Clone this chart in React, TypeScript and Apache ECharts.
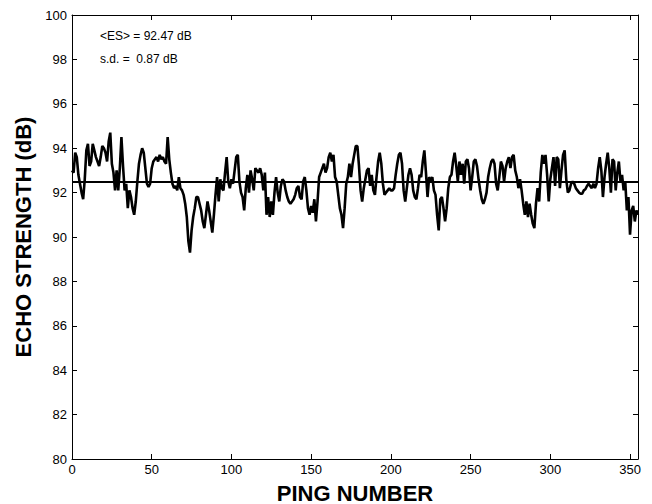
import React, { useEffect, useRef } from "react";
import * as echarts from "echarts";

// Echo strength (dB) for ping numbers 0..355 (index = ping number)
const echoStrength: number[] = [
  93.0, 92.9, 93.8, 93.6, 92.8, 92.4, 92.0, 91.7, 92.6, 93.9,
  94.2, 93.2, 93.4, 94.2, 93.9, 93.6, 93.4, 93.2, 93.6, 94.1,
  94.0, 93.8, 93.4, 94.3, 94.7, 93.3, 92.9, 92.1, 93.0, 92.1,
  93.1, 94.5, 93.2, 92.1, 92.4, 91.3, 92.1, 91.8, 91.3, 91.0,
  91.6, 92.5, 93.3, 93.7, 94.0, 93.8, 93.1, 92.4, 92.25, 92.4,
  93.1, 93.4, 93.5, 93.6, 93.4, 93.7, 93.5, 93.6, 93.4, 93.3,
  94.5, 93.5, 92.9, 92.4, 92.2, 92.3, 92.1, 92.7, 92.2, 92.1,
  91.9, 91.5, 90.9, 89.8, 89.3, 90.3, 90.9, 91.3, 91.8, 91.8,
  91.5, 91.2, 90.7, 90.4, 91.0, 91.6, 91.2, 90.7, 90.2, 91.0,
  91.9, 92.7, 91.6, 92.6, 92.2, 92.1, 92.9, 93.6, 92.5, 92.2,
  92.6, 92.4, 93.0, 93.6, 93.7, 92.5, 92.0, 91.8, 91.2, 92.2,
  92.8, 92.0, 93.0, 92.6, 92.1, 93.1, 93.0, 92.9, 93.1, 92.8,
  92.1, 92.9, 91.0, 91.8, 90.9, 91.6, 91.0, 92.0, 92.7, 92.0,
  91.6, 92.3, 92.6, 92.5, 92.1, 91.8, 91.6, 91.5, 91.6, 91.7,
  91.9, 92.2, 92.3, 91.8, 91.7, 92.5, 92.7, 92.1, 91.3, 91.0,
  91.4, 91.1, 91.7, 90.7, 91.6, 92.7, 92.9, 93.1, 93.3, 92.9,
  93.1, 93.6, 93.8, 93.4, 93.7, 92.7, 92.5, 91.9, 91.3, 91.0,
  90.4, 91.3, 92.4, 92.7, 93.3, 92.7, 93.3, 93.7, 94.1, 94.1,
  93.2, 92.1, 91.6, 92.2, 92.6, 93.0, 93.1, 92.3, 92.8, 92.1,
  91.9, 92.7, 93.4, 93.8, 93.3, 92.4, 91.9, 92.0, 92.1, 92.2,
  92.1, 92.1, 92.2, 92.8, 93.3, 93.7, 93.8, 93.3, 92.1, 91.6,
  92.2, 92.8, 93.1, 92.8, 92.1, 91.8, 91.7, 92.2, 92.8, 92.7,
  93.4, 93.9, 92.9, 91.8, 92.7, 92.5, 92.7, 92.1, 91.9, 91.0,
  90.3, 91.7, 91.8, 91.3, 90.7, 91.3, 92.2, 92.7, 92.8, 93.4,
  93.8, 93.2, 92.5, 93.4, 92.8, 93.3, 92.4, 93.4, 93.5, 93.1,
  92.1, 92.7, 93.4, 93.5, 93.2, 92.6, 92.1, 91.7, 91.5, 91.7,
  92.0, 92.7, 93.1, 93.4, 93.5, 93.3, 92.4, 92.1, 92.7, 93.4,
  93.2, 92.5, 93.1, 93.4, 93.6, 93.1, 93.6, 93.7, 93.0, 92.7,
  92.2, 92.6, 92.1, 91.5, 91.0, 91.6, 90.9, 91.5, 91.0, 90.6,
  90.4, 91.5, 92.2, 91.6, 92.9, 93.7, 93.3, 93.7, 92.8, 91.6,
  92.6, 93.1, 93.6, 92.3, 93.6, 93.5, 92.2, 93.0, 93.7, 93.9,
  92.6, 92.0, 92.1, 92.4, 92.5, 92.4, 92.2, 92.1, 92.0, 91.95,
  91.95, 92.1, 92.15, 92.3, 92.4, 92.3, 92.2, 92.4, 92.2, 92.4,
  93.1, 93.6, 93.0, 91.8, 92.7, 93.3, 93.8, 93.1, 92.0, 93.5,
  93.4, 92.1, 92.9, 93.4, 92.5, 92.8, 92.1, 92.5, 91.2, 91.8,
  90.1, 91.2, 91.4, 90.7, 91.2, 91.0,
];

const meanES = 92.47;
const sdES = 0.87;

const xMin = 0;
const xMax = 355;
const xInterval = 50;
const yMin = 80;
const yMax = 100;
const yInterval = 2;

const xTitle = "PING NUMBER";
const yTitle = "ECHO STRENGTH (dB)";
const annotationLines = [`<ES> = ${meanES.toFixed(2)} dB`, `s.d. =  ${sdES.toFixed(2)} dB`];

export default function App() {
  const ref = useRef<HTMLDivElement>(null);

  useEffect(() => {
    if (!ref.current) return;
    const chart = echarts.init(ref.current, null, { renderer: "svg" });
    const font = "'Liberation Sans', Arial, Helvetica, sans-serif";

    const lineStyle = { color: "#000", width: 1 };
    const tick = { show: true, inside: true, length: 5, lineStyle: { color: "#000", width: 1 } };

    chart.setOption({
      animation: false,
      backgroundColor: "#ffffff",
      grid: { left: 72, right: 14, top: 15, bottom: 45, containLabel: false, outerBoundsMode: "none" },
      xAxis: [
        {
          type: "value",
          min: xMin,
          max: xMax,
          interval: xInterval,
          position: "bottom",
          name: xTitle,
          nameLocation: "middle",
          nameGap: 23,
          nameTextStyle: { fontFamily: font, fontWeight: "bold", fontSize: 22, color: "#000" },
          axisLine: { show: true, onZero: false, lineStyle },
          axisTick: tick,
          axisLabel: { color: "#000", fontFamily: font, fontSize: 13, margin: 4, showMaxLabel: false },
          splitLine: { show: false },
        },
        {
          type: "value",
          min: xMin,
          max: xMax,
          interval: xInterval,
          position: "top",
          axisLine: { show: true, onZero: false, lineStyle },
          axisTick: tick,
          axisLabel: { show: false },
          splitLine: { show: false },
        },
      ],
      yAxis: [
        {
          type: "value",
          min: yMin,
          max: yMax,
          interval: yInterval,
          position: "left",
          name: yTitle,
          nameLocation: "middle",
          nameGap: 29,
          nameTextStyle: { fontFamily: font, fontWeight: "bold", fontSize: 22, color: "#000" },
          axisLine: { show: true, onZero: false, lineStyle },
          axisTick: tick,
          axisLabel: { color: "#000", fontFamily: font, fontSize: 13, margin: 5 },
          splitLine: { show: false },
        },
        {
          type: "value",
          min: yMin,
          max: yMax,
          interval: yInterval,
          position: "right",
          axisLine: { show: true, onZero: false, lineStyle },
          axisTick: tick,
          axisLabel: { show: false },
          splitLine: { show: false },
        },
      ],
      graphic: annotationLines.map((t, i) => ({
        type: "text",
        left: 100,
        top: 30 + i * 23,
        style: { text: t, fill: "#000", font: `12px ${font}` },
      })),
      series: [
        {
          type: "line",
          xAxisIndex: 0,
          yAxisIndex: 0,
          data: echoStrength.map((v, i) => [i, v]),
          showSymbol: false,
          symbol: "none",
          lineStyle: { color: "#000", width: 2.6 },
          markLine: {
            silent: true,
            symbol: "none",
            label: { show: false },
            lineStyle: { color: "#000", width: 2, type: "solid" },
            data: [{ yAxis: meanES }],
          },
        },
      ],
    });

    return () => chart.dispose();
  }, []);

  return <div ref={ref} style={{ width: 652, height: 504, position: "absolute", left: 0, top: 0 }} />;
}
